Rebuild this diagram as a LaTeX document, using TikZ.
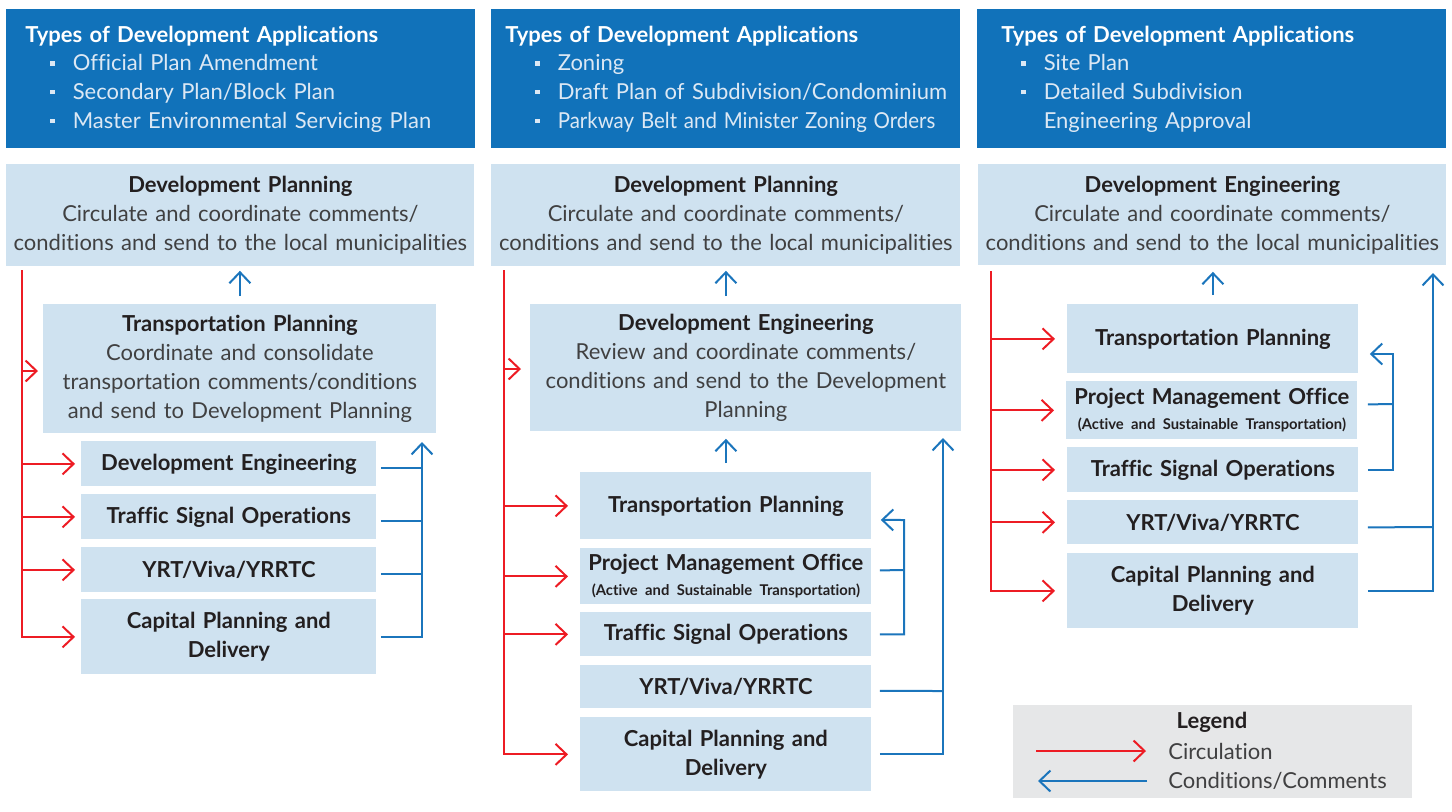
\documentclass[tikz,border=0pt]{standalone}
\usepackage{fontspec}
\usepackage{graphicx}
\setmainfont{Lato}[Ligatures=NoCommon]
\usetikzlibrary{arrows.meta}

\definecolor{hdrblue}{HTML}{1172BA}
\definecolor{hdritem}{HTML}{DCE8F4}
\definecolor{boxblue}{HTML}{CFE2F0}
\definecolor{titlegray}{HTML}{231F20}
\definecolor{bodygray}{HTML}{404041}
\definecolor{circred}{HTML}{ED1C24}
\definecolor{cmtblue}{HTML}{1B75BC}
\definecolor{lggray}{HTML}{E6E7E8}

\newcommand{\boxtitle}[1]{{\bfseries\color{titlegray}#1}}
\newcommand{\hgap}{\hspace*{9.5pt}}
\newcommand{\hbul}{\hspace*{22pt}\rule[2.6pt]{2.2pt}{2.2pt}\hspace*{9pt}}
\newcommand{\smalltitle}[1]{\mbox{\fontsize{7.4}{8}\selectfont\bfseries\color{titlegray}#1}}

\tikzset{
  hdr/.style={anchor=north west, fill=hdrblue, text=hdritem, inner sep=0pt,
    align=left, minimum width=234.5pt, minimum height=69.5pt,
    text width=234.5pt, font=\fontsize{11}{14.35}\selectfont},
  unit/.style 2 args={anchor=north west, fill=boxblue, text=bodygray, inner sep=0pt,
    align=center, minimum width=#1, text width=#1, minimum height=#2,
    font=\fontsize{11}{14.5}\selectfont},
  circ/.style={draw=circred, line width=1pt, -{Straight Barb[length=5.5pt,width=10.5pt]}},
  circline/.style={draw=circred, line width=1pt},
  cmt/.style={draw=cmtblue, line width=1pt, -{Straight Barb[length=5.5pt,width=10.5pt]}},
  cmtline/.style={draw=cmtblue, line width=1pt},
}

\begin{document}
\begin{tikzpicture}[x=0.5pt, y=-0.5pt]
  \useasboundingbox (0,0) rectangle (1452,811);

  % Column 1
  \node[hdr] (hA) at (6,9) {\hgap\textcolor{white}{\bfseries Types of Development Applications}\\
    \hbul Official Plan Amendment\\
    \hbul Secondary Plan/Block Plan\\
    \hbul Master Environmental Servicing Plan};
  \node[unit={234pt}{51pt}] (dpA) at (6,164) {\boxtitle{Development Planning}\\
    Circulate and coordinate comments/\\conditions and send to the local municipalities};
  \node[unit={196.5pt}{64.5pt}] (tpA) at (43,304) {\boxtitle{Transportation Planning}\\
    Coordinate and consolidate\\transportation comments/conditions\\and send to Development Planning};
  \node[unit={147.5pt}{22.5pt}] (deA) at (81,441) {\boxtitle{Development Engineering}};
  \node[unit={147.5pt}{22.5pt}] (tsA) at (81,494) {\boxtitle{Traffic Signal Operations}};
  \node[unit={147.5pt}{22.5pt}] (yrA) at (81,547) {\boxtitle{YRT/Viva/YRRTC}};
  \node[unit={147.5pt}{37.5pt}] (cpA) at (81,599) {\boxtitle{Capital Planning and\\Delivery}};

  \coordinate (rA) at (22,270);
  \coordinate (bA) at (422,442);
  \draw[circ] (rA) |- ([xshift=-3pt]cpA.west);
  \draw[circ] (rA |- 0,371) -- ([xshift=-2.5pt]tpA.west |- 0,371);
  \foreach \n in {deA,tsA,yrA}
    \draw[circ] (rA |- \n.west) -- ([xshift=-3pt]\n.west);
  \draw[cmt] ([xshift=2pt]cpA.east) -| (bA);
  \foreach \n in {deA,tsA,yrA}
    \draw[cmtline] ([xshift=2pt,yshift=-2pt]\n.east) -- ([yshift=-2pt]bA |- \n.east);
  \draw[cmt, shorten <=4pt, shorten >=2pt] (tpA.north) -- (tpA.north |- dpA.south);

  % Column 2
  \node[hdr] (hB) at (491,9) {\hspace*{7pt}\textcolor{white}{\bfseries Types of Development Applications}\\
    \hbul Zoning\\
    \hbul Draft Plan of Subdivision/Condominium\\
    \hbul\scalebox{0.93}[1]{Parkway Belt and Minister Zoning Orders}};
  \node[unit={234.5pt}{51pt}] (dpB) at (491,164) {\boxtitle{Development Planning}\\
    Circulate and coordinate comments/\\conditions and send to the local municipalities};
  \node[unit={215.5pt}{63.5pt}] (deB) at (530,304) {\boxtitle{Development Engineering}\\
    Review and coordinate comments/\\conditions and send to the Development\\Planning};
  \node[unit={145.5pt}{33.5pt}] (tpB) at (580,472) {\boxtitle{Transportation Planning}};
  \node[unit={145.5pt}{28pt}] (pmB) at (580,548) {\boxtitle{Project Management Office}\\[-2pt]
    \smalltitle{(Active and Sustainable Transportation)}};
  \node[unit={145.5pt}{22pt}] (tsB) at (580,612) {\boxtitle{Traffic Signal Operations}};
  \node[unit={145.5pt}{21.5pt}] (yrB) at (580,665) {\boxtitle{YRT/Viva/YRRTC}};
  \node[unit={145.5pt}{37pt}] (cpB) at (580,717) {\boxtitle{Capital Planning and\\Delivery}};

  \coordinate (rB) at (504,270);
  \coordinate (bB1) at (904,520);
  \coordinate (bB2) at (943,438);
  \draw[circ] (rB) |- ([xshift=-6pt]cpB.west);
  \draw[circ] (rB |- 0,369) -- ([xshift=-4.5pt]deB.west |- 0,369);
  \foreach \n in {tpB,pmB,tsB}
    \draw[circ] (rB |- \n.west) -- ([xshift=-6pt]\n.west);
  \draw[cmt] ([xshift=4pt]tsB.east) -| (bB1) -- ([xshift=4.5pt,yshift=-7pt]tpB.east);
  \draw[cmtline] ([xshift=4pt,yshift=3pt]pmB.east) -- (bB1 |- 0,570);
  \draw[cmt] ([xshift=4pt]cpB.east) -| (bB2);
  \draw[cmtline] ([xshift=4pt,yshift=-2pt]yrB.east) -- (bB2 |- 0,691);
  \draw[cmt, shorten <=4pt, shorten >=2pt] (deB.north -| dpB.south) -- (dpB.south);
  \draw[cmt, shorten <=4.5pt, shorten >=3.5pt] (tpB.north) -- (tpB.north |- deB.south);

  % Column 3
  \node[hdr] (hC) at (977,9) {\hspace*{12pt}\textcolor{white}{\bfseries Types of Development Applications}\\
    \hbul Site Plan\\
    \hbul Detailed Subdivision\\
    \hspace*{33.2pt}Engineering Approval};
  \node[unit={234pt}{50.5pt}] (deC) at (978,164) {\boxtitle{Development Engineering}\\
    Circulate and coordinate comments/\\conditions and send to the local municipalities};
  \node[unit={145.5pt}{34.5pt}] (tpC) at (1067,304) {\boxtitle{Transportation Planning}};
  \node[unit={145.5pt}{29pt}] (pmC) at (1066,381) {\boxtitle{Project Management Office}\\[-2pt]
    \smalltitle{(Active and Sustainable Transportation)}};
  \node[unit={145.5pt}{22.5pt}] (tsC) at (1067,447) {\boxtitle{Traffic Signal Operations}};
  \node[unit={145.5pt}{22pt}] (yrC) at (1067,500) {\boxtitle{YRT/Viva/YRRTC}};
  \node[unit={145.5pt}{37.5pt}] (cpC) at (1067,553) {\boxtitle{Capital Planning and\\Delivery}};

  \coordinate (rC) at (991,271);
  \coordinate (bC1) at (1393,354);
  \coordinate (bC2) at (1433,273);
  \draw[circ] (rC) |- ([xshift=-6pt]cpC.west);
  \foreach \n in {tpC,pmC,tsC,yrC}
    \draw[circ] (rC |- \n.west) -- ([xshift=-6pt]\n.west);
  \draw[cmt] ([xshift=4.5pt]tsC.east) -| (bC1) -- ([xshift=5.5pt]tpC.east |- bC1);
  \draw[cmtline] ([xshift=5pt,yshift=3pt]pmC.east) -- (bC1 |- 0,404);
  \draw[cmt] ([xshift=4.5pt]cpC.east) -| (bC2);
  \draw[cmtline] ([xshift=4.5pt,yshift=-2.5pt]yrC.east) -- (bC2 |- 0,527);
  \draw[cmt, shorten <=4.5pt, shorten >=3pt] (tpC.north) -- (tpC.north |- deC.south);

  % Legend
  \node[anchor=north west, fill=lggray, minimum width=199.5pt, minimum height=46.5pt,
    inner sep=0pt] (lg) at (1013,705) {};
  \node[font=\fontsize{11}{13}\selectfont\bfseries, text=titlegray, inner sep=0pt]
    (lgt) at (1212,722) {Legend};
  \coordinate (lr1) at (1036,751);
  \coordinate (lr2) at (1146,751);
  \coordinate (lb1) at (1147,781);
  \coordinate (lb2) at (1038,781);
  \draw[circ] (lr1) -- (lr2);
  \draw[cmt] (lb1) -- (lb2);
  \node[anchor=west, inner sep=0pt, text=bodygray, font=\fontsize{11}{13}\selectfont]
    (lgc) at (1168,751) {Circulation};
  \node[anchor=west, inner sep=0pt, text=bodygray, font=\fontsize{11}{13}\selectfont]
    (lgm) at (1168,781) {Conditions/Comments};
\end{tikzpicture}
\end{document}
